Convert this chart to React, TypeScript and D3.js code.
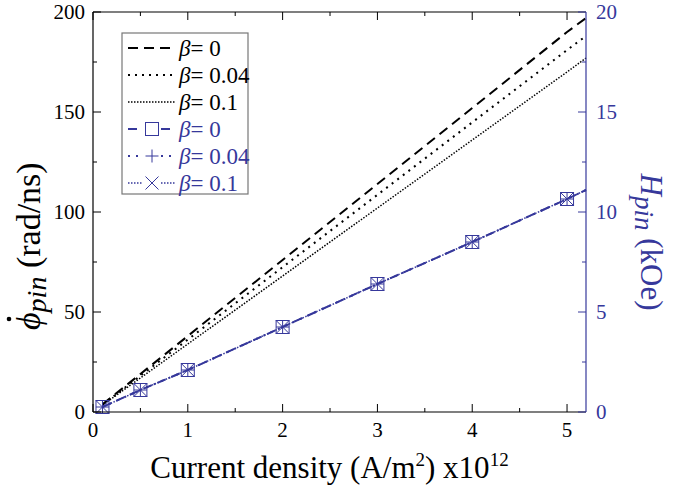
import React from 'react';
import * as d3 from 'd3';

// current density (x10^12 A/m^2)
const currentDensity = [0.1, 0.5, 1, 2, 3, 4, 5, 5.2];
// pinning phase velocity (rad/ns) for each beta
const phiBeta0 = [3.8, 19, 38, 76, 114, 152, 190, 197];
const phiBeta004 = [3.6, 18.1, 36.2, 72.4, 108.6, 144.8, 181, 188];
const phiBeta01 = [3.4, 17, 34, 68, 102, 136, 170, 177];
// pinning field (kOe), same for all beta
const hpinBeta0 = [0.25, 1.1, 2.1, 4.25, 6.4, 8.5, 10.65, 11.1];
const hpinBeta004 = [0.25, 1.1, 2.1, 4.25, 6.4, 8.5, 10.65, 11.1];
const hpinBeta01 = [0.25, 1.1, 2.1, 4.25, 6.4, 8.5, 10.65, 11.1];
const markerCount = 7; // last point is only the line end at the frame

const xTicks = [0, 1, 2, 3, 4, 5];
const xMinor = [0.5, 1.5, 2.5, 3.5, 4.5];
const yTicks = [0, 50, 100, 150, 200];
const yMinor = [25, 75, 125, 175];
const y2Ticks = [0, 5, 10, 15, 20];
const y2Minor = [2.5, 7.5, 12.5, 17.5];

const BLUE = '#36389b';
const FONT = "'Liberation Serif', 'Times New Roman', serif";

const W = 675;
const H = 493;
const m = { left: 93, right: 89, top: 12, bottom: 81 };

const blackSeries = [
  { label: '0', values: phiBeta0, dash: '10,6', width: 2 },
  { label: '0.04', values: phiBeta004, dash: '2,5', width: 2 },
  { label: '0.1', values: phiBeta01, dash: '1.5,1.5', width: 1.5 },
];
const blueSeries = [
  { label: '0', values: hpinBeta0, dash: '9,6', width: 2, marker: 'square' },
  { label: '0.04', values: hpinBeta004, dash: '2,6', width: 2, marker: 'plus' },
  { label: '0.1', values: hpinBeta01, dash: '1.5,1.5', width: 1.5, marker: 'cross' },
];

const Marker = ({ type, x, y }: { type: string; x: number; y: number }) => {
  const s = 6.5;
  if (type === 'square')
    return <rect x={x - s} y={y - s} width={2 * s} height={2 * s} fill="none" stroke={BLUE} strokeWidth={1} />;
  if (type === 'plus')
    return <path d={`M${x - s},${y}H${x + s}M${x},${y - s}V${y + s}`} stroke={BLUE} strokeWidth={1} />;
  return <path d={`M${x - s},${y - s}L${x + s},${y + s}M${x - s},${y + s}L${x + s},${y - s}`} stroke={BLUE} strokeWidth={1} />;
};

export default function App() {
  const iw = W - m.left - m.right;
  const ih = H - m.top - m.bottom;
  const x = d3.scaleLinear().domain([0, 5.2]).range([m.left, m.left + iw]);
  const y = d3.scaleLinear().domain([0, 200]).range([m.top + ih, m.top]);
  const y2 = d3.scaleLinear().domain([0, 20]).range([m.top + ih, m.top]);

  const lineL = d3.line<number>().x((_, i) => x(currentDensity[i])).y((d) => y(d));
  const lineR = d3.line<number>().x((_, i) => x(currentDensity[i])).y((d) => y2(d));

  const bottom = m.top + ih;
  const right = m.left + iw;

  const legX = 122;
  const legY = 33;
  const rowH = 27;

  return (
    <div style={{ position: 'absolute', left: 0, top: 0 }}>
      <svg width={W} height={H} style={{ display: 'block', background: '#fff', fontFamily: FONT }}>
        {/* data lines */}
        {blackSeries.map((s) => (
          <path key={'b' + s.label} d={lineL(s.values) || ''} fill="none" stroke="#000" strokeWidth={s.width} strokeDasharray={s.dash} />
        ))}
        {blueSeries.map((s) => (
          <path key={'u' + s.label} d={lineR(s.values) || ''} fill="none" stroke={BLUE} strokeWidth={s.width} strokeDasharray={s.dash} />
        ))}
        {blueSeries.map((s) =>
          s.values.slice(0, markerCount).map((v, i) => (
            <Marker key={s.marker + i} type={s.marker} x={x(currentDensity[i])} y={y2(v)} />
          ))
        )}

        {/* frame */}
        <line x1={m.left} x2={right} y1={m.top} y2={m.top} stroke="#000" strokeWidth={1.2} />
        <line x1={m.left} x2={right} y1={bottom} y2={bottom} stroke="#000" strokeWidth={1.2} />
        <line x1={m.left} x2={m.left} y1={m.top} y2={bottom} stroke="#000" strokeWidth={1.2} />
        <line x1={right} x2={right} y1={m.top} y2={bottom} stroke={BLUE} strokeWidth={1.2} />

        {/* x ticks */}
        {xTicks.map((t) => (
          <g key={'x' + t}>
            <line x1={x(t)} x2={x(t)} y1={bottom} y2={bottom - 8} stroke="#000" />
            <line x1={x(t)} x2={x(t)} y1={m.top} y2={m.top + 8} stroke="#000" />
            <text x={x(t)} y={bottom + 25} textAnchor="middle" fontSize={21}>{t}</text>
          </g>
        ))}
        {xMinor.map((t) => (
          <g key={'xm' + t}>
            <line x1={x(t)} x2={x(t)} y1={bottom} y2={bottom - 4} stroke="#000" />
            <line x1={x(t)} x2={x(t)} y1={m.top} y2={m.top + 4} stroke="#000" />
          </g>
        ))}

        {/* left y ticks */}
        {yTicks.map((t) => (
          <g key={'y' + t}>
            <line x1={m.left} x2={m.left + 8} y1={y(t)} y2={y(t)} stroke="#000" />
            <text x={m.left - 8} y={y(t) + 7} textAnchor="end" fontSize={21}>{t}</text>
          </g>
        ))}
        {yMinor.map((t) => (
          <line key={'ym' + t} x1={m.left} x2={m.left + 4} y1={y(t)} y2={y(t)} stroke="#000" />
        ))}

        {/* right y ticks */}
        {y2Ticks.map((t) => (
          <g key={'r' + t}>
            <line x1={right} x2={right - 8} y1={y2(t)} y2={y2(t)} stroke={BLUE} />
            <text x={right + 10} y={y2(t) + 7} textAnchor="start" fontSize={21} fill={BLUE}>{t}</text>
          </g>
        ))}
        {y2Minor.map((t) => (
          <line key={'rm' + t} x1={right} x2={right - 4} y1={y2(t)} y2={y2(t)} stroke={BLUE} />
        ))}

        {/* axis titles */}
        <text x={m.left + iw / 2 - 10} y={478} textAnchor="middle" fontSize={31}>
          Current density (A/m<tspan dy={-12} fontSize={19}>2</tspan>
          <tspan dy={12}>) x10</tspan>
          <tspan dy={-12} fontSize={19}>12</tspan>
        </text>
        <g transform="translate(40,330) rotate(-90)">
          <text x={0} y={0} fontSize={34}>
            <tspan fontStyle="italic">ϕ</tspan>
            <tspan fontStyle="italic" fontSize={28} dy={6}>pin</tspan>
            <tspan dy={-6}> (rad/ns)</tspan>
          </text>
          <circle cx={11} cy={-31} r={2.3} fill="#000" />
        </g>
        <text transform={`translate(641,${m.top + ih / 2 + 30}) rotate(90)`} textAnchor="middle" fontSize={31} fill={BLUE}>
          <tspan fontStyle="italic">H</tspan>
          <tspan fontStyle="italic" fontSize={27} dy={6}>pin</tspan>
          <tspan dy={-6}> (kOe)</tspan>
        </text>

        {/* legend */}
        <rect x={legX} y={legY} width={126} height={161} fill="#fff" stroke="#777" strokeWidth={1.2} />
        {blackSeries.map((s, i) => {
          const cy = legY + 15 + i * rowH;
          return (
            <g key={'lb' + s.label}>
              <line x1={legX + 6} x2={legX + 53} y1={cy} y2={cy} stroke="#000" strokeWidth={s.width} strokeDasharray={s.dash} />
              <text x={legX + 57} y={cy + 8} fontSize={23}>
                <tspan fontStyle="italic">β</tspan>= {s.label}
              </text>
            </g>
          );
        })}
        {blueSeries.map((s, i) => {
          const cy = legY + 15 + (i + 3) * rowH;
          const mid = legX + 30;
          return (
            <g key={'lu' + s.label}>
              <line x1={legX + 6} x2={mid - 9} y1={cy} y2={cy} stroke={BLUE} strokeWidth={s.width} strokeDasharray={s.dash} />
              <line x1={mid + 9} x2={legX + 53} y1={cy} y2={cy} stroke={BLUE} strokeWidth={s.width} strokeDasharray={s.dash} />
              <Marker type={s.marker} x={mid} y={cy} />
              <text x={legX + 57} y={cy + 8} fontSize={23} fill={BLUE}>
                <tspan fontStyle="italic">β</tspan>= {s.label}
              </text>
            </g>
          );
        })}
      </svg>
    </div>
  );
}
